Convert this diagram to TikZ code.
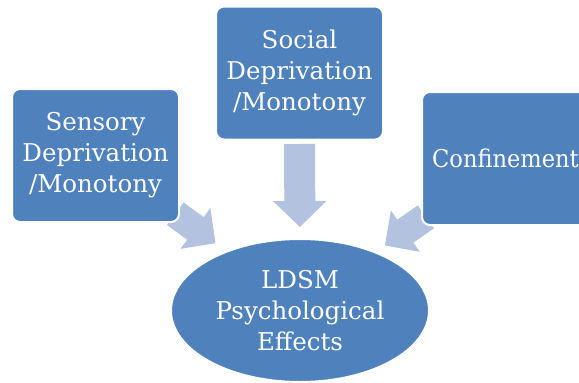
\documentclass[tikz,border=0pt]{standalone}
\usepackage{fontspec}
\setmainfont{DejaVu Serif}
\usetikzlibrary{shapes.geometric,arrows.meta,calc}
\definecolor{boxblue}{RGB}{79,129,189}
\definecolor{arrowblue}{RGB}{179,194,222}
\pgfdeclarelayer{bg}
\pgfsetlayers{bg,main}
\tikzset{
  label font/.style={font=\fontsize{24.5}{31}\selectfont},
  stepbox/.style={rectangle, rounded corners=8pt, fill=boxblue, draw=white,
    line width=2pt, text=white, align=center, inner sep=0pt, outer sep=0pt,
    minimum width=167pt, minimum height=133pt, label font},
  narrow text/.style={font=\fontsize{24.5}{31}\selectfont\addfontfeature{FakeStretch=0.92}},
  effectnode/.style={ellipse, fill=boxblue, draw=white, line width=2pt,
    text=white, align=center, inner sep=0pt, outer sep=0pt,
    minimum width=258pt, minimum height=143pt, label font},
  bigarrow/.style={draw=arrowblue, line width=31pt, line cap=butt,
    -{Triangle[width=52pt,length=26pt]}},
  sidearrow/.style={draw=arrowblue, line width=28pt, line cap=butt,
    -{Triangle[width=49pt,length=25pt]}}
}
\begin{document}
\begin{tikzpicture}[x=1pt,y=-1pt]
  \useasboundingbox (0,0) rectangle (579,383);

  % cause boxes and the central effect
  \node[stepbox] (sens) at (95.5,155.5) {Sensory\\Deprivation\\/Monotony};
  \node[stepbox] (soc)  at (299.5,73)   {Social\\Deprivation\\/Monotony};
  \node[stepbox, narrow text] (conf) at (505.5,158.5) {Confinement};
  \node[effectnode] (ldsm) at (300,310.5) {LDSM\\Psychological\\Effects};

  % axes of the diagonal arrows
  \coordinate (lA) at ($(sens.south east)+(3.5,-3)$);
  \coordinate (lB) at ($(ldsm.center)+(3.5,-3)$);
  \coordinate (la0) at ($(lA)!-9pt!(lB)$);
  \coordinate (la1) at ($(lA)!41pt!(lB)$);
  \coordinate (rA) at ($(conf.south west)+(-3.5,-3)$);
  \coordinate (rB) at ($(ldsm.center)+(-3.5,-3)$);
  \coordinate (ra0) at ($(rA)!-9pt!(rB)$);
  \coordinate (ra1) at ($(rA)!41pt!(rB)$);

  \begin{pgfonlayer}{bg}
    \draw[bigarrow, shorten <=4.5pt, shorten >=12pt] (soc.south) -- (ldsm.north);
    \draw[sidearrow] (la0) -- (la1);
    \draw[sidearrow] (ra0) -- (ra1);
  \end{pgfonlayer}
\end{tikzpicture}
\end{document}
